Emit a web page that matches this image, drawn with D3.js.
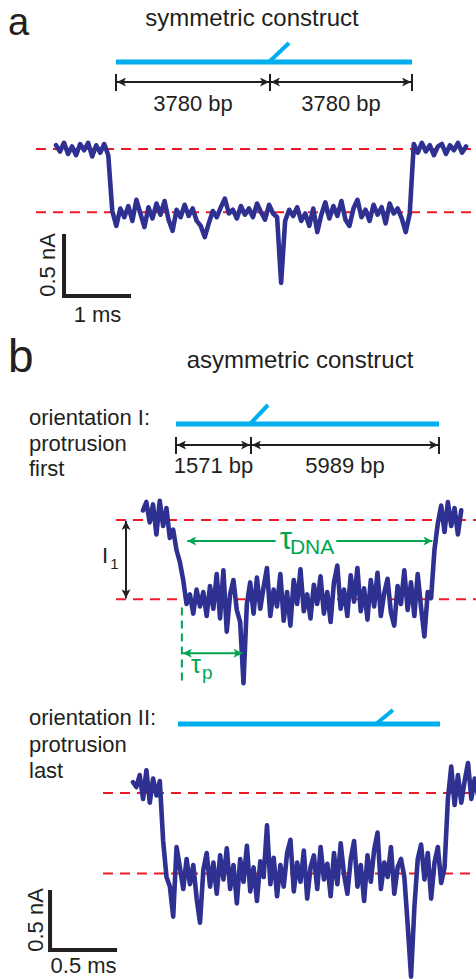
<!DOCTYPE html>
<html>
<head>
<meta charset="utf-8">
<script src="https://cdn.jsdelivr.net/npm/d3@7"></script>
<style>
  body { margin: 0; background: #fff; }
  svg { display: block; font-family: "Liberation Sans", Arial, sans-serif; }
</style>
</head>
<body>
<svg id="fig"></svg>
<script>
// current traces in nA, relative to the open-pore level, sampled every dt ms
const dtA = 0.06;
const traceA = [
  0.03, -0.02, 0.05, -0.04, 0.02, -0.05, 0.04, -0.01, 0.05, -0.06, 0.03, -0.03, 0.04, -0.05,
  -0.50, -0.62, -0.48, -0.55, -0.46, -0.58, -0.41, -0.52, -0.63, -0.47, -0.56, -0.44, -0.53, -0.42,
  -0.57, -0.66, -0.49, -0.55, -0.45, -0.54, -0.48, -0.58, -0.62, -0.71, -0.60, -0.50, -0.55, -0.47,
  -0.40, -0.52, -0.49, -0.56, -0.46, -0.53, -0.48, -0.55, -0.44, -0.51, -0.57, -0.45, -0.52, -0.55,
  -1.08, -0.58, -0.49, -0.54, -0.47, -0.58, -0.52, -0.62, -0.48, -0.67, -0.53, -0.43, -0.56, -0.46,
  -0.54, -0.42, -0.57, -0.62, -0.48, -0.41, -0.55, -0.49, -0.58, -0.45, -0.53, -0.47, -0.60, -0.44,
  -0.52, -0.48, -0.56, -0.67, -0.52,
  0.04, -0.03, 0.05, -0.02, 0.03, -0.05, 0.02, 0.04, -0.04, 0.03, -0.01, 0.05, -0.03, 0.02
];
const levelsA = [0, -0.51];

const dtB = 0.025;
const traceB1 = [
  0.08, 0.15, -0.02, 0.13, -0.12, 0.16, -0.05, 0.10, -0.15, -0.08,
  -0.25, -0.35, -0.50, -0.70,
  -0.62, -0.78, -0.58, -0.72, -0.60, -0.80, -0.55, -0.74, -0.45, -0.82, -0.42, -0.93, -0.62, -0.50,
  -0.75, -0.85, -1.36, -0.70, -0.52, -0.78, -0.48, -0.74, -0.56, -0.40, -0.80, -0.58, -0.72, -0.45,
  -0.84, -0.60, -0.88, -0.50, -0.70, -0.41, -0.76, -0.62, -0.82, -0.54, -0.70, -0.47, -0.78, -0.60,
  -0.85, -0.52, -0.38, -0.74, -0.58, -0.80, -0.46, -0.68, -0.40, -0.76, -0.57, -0.83, -0.50, -0.72,
  -0.44, -0.80, -0.61, -0.49, -0.77, -0.88, -0.55, -0.70, -0.42, -0.75, -0.52, -0.80, -0.45, -0.73,
  -0.97, -0.60, -0.65, -0.25, -0.03,
  0.12, -0.10, 0.15, -0.05, 0.10, -0.12, 0.08
];
const levelsB1 = [0, -0.66];

const traceB2 = [
  0.09, 0.05, 0.15, -0.05, 0.19, -0.08, 0.12, -0.02, 0.10,
  -0.40,
  -0.70, -0.78, -1.03, -0.45, -0.62, -0.80, -0.55, -0.76, -0.60, -0.88, -1.08, -0.64, -0.50, -0.78,
  -0.58, -0.84, -0.52, -0.72, -0.46, -0.80, -0.60, -0.92, -0.55, -0.74, -0.44, -0.82, -0.62, -0.90,
  -0.57, -0.70, -0.27, -0.76, -0.54, -0.86, -0.60, -0.78, -0.50, -0.39, -0.82, -0.58, -0.74, -0.48,
  -0.88, -0.62, -0.52, -0.80, -0.45, -0.72, -0.59, -0.86, -0.50, -0.76, -0.42, -0.68, -0.84, -0.55,
  -0.40, -0.78, -0.60, -0.90, -0.52, -0.74, -0.47, -0.33, -0.80, -0.58, -0.70, -0.45, -0.84, -0.62,
  -0.55, -0.70, -1.10, -1.53, -0.95, -0.55, -0.43, -0.72, -0.50, -0.88, -0.58, -0.45, -0.75, -0.62,
  -0.05,
  0.22, -0.10, 0.15, -0.08, 0.10, 0.25, -0.05, 0.12, -0.02
];
const levelsB2 = [0, -0.67];

// construct lengths (bp)
const segmentsA = [3780, 3780];
const segmentsB1 = [1571, 5989];
const segmentsB2 = [5989, 1571];

// annotation times (ms) on trace b-I
const tauDNA = [0.33, 2.16];
const tauP = [0.29, 0.75];

const traceColor = '#2e3192';
const levelColor = '#ed1c24';
const dnaColor = '#00aeef';
const green = '#00a651';
const ink = '#231f20';

const svg = d3.select('#fig').attr('width', 476).attr('height', 979);
svg.append('rect').attr('width', 476).attr('height', 979).attr('fill', '#fff');

const defs = svg.append('defs');
[['arrK', ink], ['arrG', green]].forEach(([id, c]) => {
  defs.append('marker')
    .attr('id', id)
    .attr('viewBox', '0 0 10 10')
    .attr('refX', 10).attr('refY', 5)
    .attr('markerUnits', 'userSpaceOnUse')
    .attr('markerWidth', 10).attr('markerHeight', 9)
    .attr('orient', 'auto-start-reverse')
    .append('path')
    .attr('d', 'M0,0 L10,5 L0,10 L2.5,5 Z')
    .attr('fill', c);
});

// scales: panel a 1 ms = 67 px, panel b 0.5 ms = 67 px
const xA = d3.scaleLinear().domain([0, 1]).range([56, 123]);
const yA = d3.scaleLinear().domain([0, -0.5]).range([149, 211]);
const xB1 = d3.scaleLinear().domain([0, 1]).range([143, 277]);
const yB1 = d3.scaleLinear().domain([0, -0.5]).range([520, 580]);
const xB2 = d3.scaleLinear().domain([0, 1]).range([133, 267]);
const yB2 = d3.scaleLinear().domain([0, -0.5]).range([793, 853]);

function drawLevels(levels, y, x0, x1) {
  svg.append('g').selectAll('line')
    .data(levels)
    .enter()
    .append('line')
    .attr('x1', x0).attr('x2', x1)
    .attr('y1', d => y(d)).attr('y2', d => y(d))
    .attr('stroke', levelColor)
    .attr('stroke-width', 2)
    .attr('stroke-dasharray', '10,7');
}

function drawTrace(values, dt, x, y) {
  const line = d3.line()
    .x((d, i) => x(i * dt))
    .y(d => y(d));
  svg.append('path')
    .datum(values)
    .attr('d', line)
    .attr('fill', 'none')
    .attr('stroke', traceColor)
    .attr('stroke-width', 4.6)
    .attr('stroke-linejoin', 'round')
    .attr('stroke-linecap', 'round');
}

function drawConstruct(segments, range, yLine, tip, dims) {
  const total = d3.sum(segments);
  const bp = d3.scaleLinear().domain([0, segments[0], total]).range(range);
  svg.append('line')
    .attr('x1', bp(0)).attr('x2', bp(total))
    .attr('y1', yLine).attr('y2', yLine)
    .attr('stroke', dnaColor).attr('stroke-width', 5);
  svg.append('line')
    .attr('x1', bp(segments[0]) - 1).attr('y1', yLine)
    .attr('x2', bp(segments[0]) - 1 + tip[0]).attr('y2', yLine - tip[1])
    .attr('stroke', dnaColor).attr('stroke-width', 4);
  if (!dims) return;
  const stops = [0, segments[0], total];
  svg.append('g').selectAll('line')
    .data(stops)
    .enter()
    .append('line')
    .attr('x1', d => bp(d)).attr('x2', d => bp(d))
    .attr('y1', dims.y - 8).attr('y2', dims.y + 9)
    .attr('stroke', ink).attr('stroke-width', 2);
  const spans = [[0, segments[0]], [segments[0], total]];
  svg.append('g').selectAll('line')
    .data(spans)
    .enter()
    .append('line')
    .attr('x1', d => bp(d[0]) + 1).attr('x2', d => bp(d[1]) - 1)
    .attr('y1', dims.y).attr('y2', dims.y)
    .attr('stroke', ink).attr('stroke-width', 2)
    .attr('marker-start', 'url(#arrK)')
    .attr('marker-end', 'url(#arrK)');
  svg.append('g').selectAll('text')
    .data(spans.map((d, i) => ({ mid: (bp(d[0]) + bp(d[1])) / 2, label: segments[i] })))
    .enter()
    .append('text')
    .attr('x', d => d.mid).attr('y', dims.labelY)
    .attr('text-anchor', 'middle')
    .attr('font-size', 22)
    .attr('fill', ink)
    .text(d => `${d.label} bp`);
}

function text(x, y, str, size, opts = {}) {
  return svg.append('text')
    .attr('x', x).attr('y', y)
    .attr('font-size', size)
    .attr('fill', opts.fill || ink)
    .attr('text-anchor', opts.anchor || 'start')
    .text(str);
}

function scaleBar(x, y, t0, i0, dt, di, label1, label2, pos) {
  svg.append('path')
    .attr('d', `M${x(t0)},${y(i0 + di)} V${y(i0)} H${x(t0 + dt)}`)
    .attr('fill', 'none')
    .attr('stroke', ink)
    .attr('stroke-width', 4);
  svg.append('text')
    .attr('transform', `translate(${pos[0]},${(y(i0) + y(i0 + di)) / 2}) rotate(-90)`)
    .attr('text-anchor', 'middle')
    .attr('font-size', 22)
    .attr('fill', ink)
    .text(label1);
  text((x(t0) + x(t0 + dt)) / 2, pos[1], label2, 22, { anchor: 'middle' });
}

// ---- panel a ----
text(8, 35, 'a', 38);
text(252, 26, 'symmetric construct', 24, { anchor: 'middle' });
drawConstruct(segmentsA, [116, 270, 412], 62, [20, 19], { y: 82, labelY: 111 });
drawLevels(levelsA, yA, 36, 476);
drawTrace(traceA, dtA, xA, yA);
scaleBar(xA, yA, 0.12, -1.185, 1, 0.5, '0.5 nA', '1 ms', [55, 322]);

// ---- panel b ----
text(8, 372, 'b', 46);
text(300, 368, 'asymmetric construct', 24, { anchor: 'middle' });

['orientation I:', 'protrusion', 'first'].forEach((s, i) => text(29, 425 + i * 25.5, s, 22));
drawConstruct(segmentsB1, [176, 251, 439], 424, [18, 19], { y: 445, labelY: 473 });
drawLevels(levelsB1, yB1, 116, 476);
drawTrace(traceB1, dtB, xB1, yB1);

// I1 arrow
svg.append('line')
  .attr('x1', 126).attr('x2', 126)
  .attr('y1', yB1(levelsB1[0]) + 1).attr('y2', yB1(levelsB1[1]) - 1)
  .attr('stroke', ink).attr('stroke-width', 2)
  .attr('marker-start', 'url(#arrK)').attr('marker-end', 'url(#arrK)');
const i1 = text(102, 563, 'I', 22);
i1.append('tspan').attr('font-size', 15).attr('dx', 2).attr('dy', 6).text('1');

// tau DNA
const tauY = yB1(-0.175);
const tauLabel = svg.append('text')
  .attr('x', 307).attr('y', tauY + 8)
  .attr('text-anchor', 'middle')
  .attr('fill', green);
tauLabel.append('tspan').attr('font-size', 31).text('τ');
tauLabel.append('tspan').attr('font-size', 21).attr('dx', -2).attr('dy', 5).text('DNA');
const tb = tauLabel.node().getBBox();
[[tb.x - 4, xB1(tauDNA[0])], [tb.x + tb.width + 2, xB1(tauDNA[1])]].forEach(([a, b]) => {
  svg.append('line')
    .attr('x1', a).attr('x2', b)
    .attr('y1', tauY).attr('y2', tauY)
    .attr('stroke', green).attr('stroke-width', 2)
    .attr('marker-end', 'url(#arrG)');
});

// tau p
svg.append('line')
  .attr('x1', xB1(tauP[0])).attr('x2', xB1(tauP[0]))
  .attr('y1', yB1(-0.73)).attr('y2', yB1(-1.36))
  .attr('stroke', green).attr('stroke-width', 2)
  .attr('stroke-dasharray', '8,5');
svg.append('line')
  .attr('x1', xB1(tauP[0]) + 1).attr('x2', xB1(tauP[1]) - 1)
  .attr('y1', yB1(-1.11)).attr('y2', yB1(-1.11))
  .attr('stroke', green).attr('stroke-width', 2)
  .attr('marker-start', 'url(#arrG)').attr('marker-end', 'url(#arrG)');
const tp = svg.append('text')
  .attr('x', 191).attr('y', 673)
  .attr('fill', green);
tp.append('tspan').attr('font-size', 25).text('τ');
tp.append('tspan').attr('font-size', 19).attr('dx', 1).attr('dy', 6).text('p');

['orientation II:', 'protrusion', 'last'].forEach((s, i) => text(29, 725 + i * 26.5, s, 22));
drawConstruct(segmentsB2, [178, 377, 440], 724, [17, 14], null);
drawLevels(levelsB2, yB2, 103, 476);
drawTrace(traceB2, dtB, xB2, yB2);
scaleBar(xB2, yB2, -0.619, -1.308, 0.5, 0.5, '0.5 nA', '0.5 ms', [43, 973]);
</script>
</body>
</html>
